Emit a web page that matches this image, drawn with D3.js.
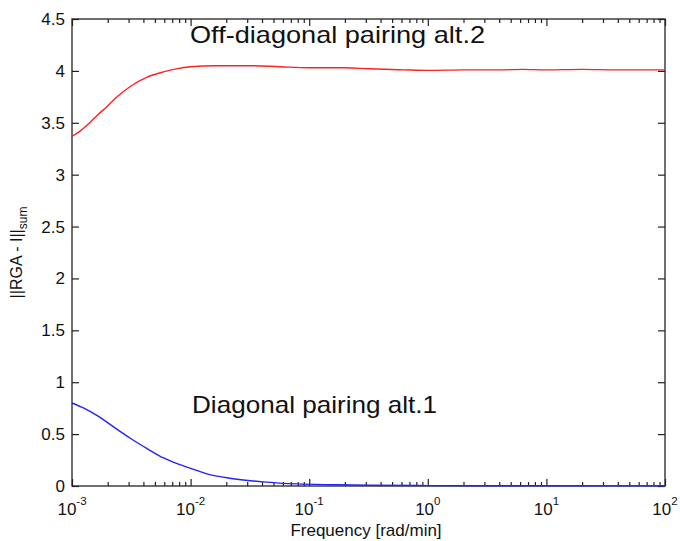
<!DOCTYPE html>
<html>
<head>
<meta charset="utf-8">
<script src="https://cdn.jsdelivr.net/npm/d3@7"></script>
<style>
  html, body { margin: 0; padding: 0; background: #fff; }
  svg { display: block; font-family: "Liberation Sans", Arial, sans-serif; }
</style>
</head>
<body>
<svg id="chart" width="680" height="541"></svg>
<script>
// ---- data ----
const offDiagFreq = [0.001, 0.00117, 0.00141, 0.00166, 0.00195, 0.0024, 0.0031, 0.0043, 0.0059, 0.0076, 0.01, 0.016, 0.032, 0.056, 0.1, 0.2, 0.32, 0.63, 1, 2, 4, 6.3, 10, 20, 40, 100];
const offDiagVal  = [3.37, 3.42, 3.50, 3.58, 3.65, 3.75, 3.85, 3.94, 3.99, 4.02, 4.04, 4.05, 4.05, 4.04, 4.03, 4.03, 4.02, 4.01, 4.005, 4.01, 4.01, 4.015, 4.01, 4.015, 4.01, 4.01];
const diagFreq = [0.001, 0.00126, 0.00162, 0.00224, 0.0031, 0.0043, 0.0059, 0.0079, 0.01, 0.0145, 0.0214, 0.041, 0.079, 0.16, 0.32, 1, 10, 100];
const diagVal  = [0.80, 0.75, 0.68, 0.57, 0.46, 0.36, 0.27, 0.21, 0.17, 0.11, 0.075, 0.04, 0.02, 0.012, 0.007, 0.004, 0.002, 0.001];
const xTickExp = [-3, -2, -1, 0, 1, 2];
const yTicks = [0, 0.5, 1, 1.5, 2, 2.5, 3, 3.5, 4, 4.5];
const yTickLabels = ["0", "0.5", "1", "1.5", "2", "2.5", "3", "3.5", "4", "4.5"];
const offDiagLabel = "Off-diagonal pairing alt.2";
const diagLabel = "Diagonal pairing alt.1";
const xLabel = "Frequency [rad/min]";
const yLabelMain = "||RGA - I||";
const yLabelSub = "sum";

// ---- layout ----
const svg = d3.select("#chart");
const L = 72, R = 665, T = 19, B = 486;
const x = d3.scaleLog().domain([1e-3, 1e2]).range([L, R]);
const y = d3.scaleLinear().domain([0, 4.5]).range([B, T]);
const axisColor = "#222";

const majorX = xTickExp.map(e => Math.pow(10, e));
const minorX = [];
for (let e = -3; e < 2; e++) for (let m = 2; m <= 9; m++) minorX.push(m * Math.pow(10, e));

function styleAxis(g) {
  g.select(".domain").remove();
  g.selectAll("line").attr("stroke", axisColor).attr("stroke-width", 1.2);
  g.selectAll("text").remove();
}

// minor ticks bottom/top
svg.append("g").attr("transform", `translate(0,${B})`)
  .call(d3.axisBottom(x).tickValues(minorX).tickSize(-4).tickFormat(""))
  .call(styleAxis);
svg.append("g").attr("transform", `translate(0,${T})`)
  .call(d3.axisTop(x).tickValues(minorX).tickSize(-4).tickFormat(""))
  .call(styleAxis);
// major ticks bottom/top
svg.append("g").attr("transform", `translate(0,${B})`)
  .call(d3.axisBottom(x).tickValues(majorX).tickSize(-7).tickFormat(""))
  .call(styleAxis);
svg.append("g").attr("transform", `translate(0,${T})`)
  .call(d3.axisTop(x).tickValues(majorX).tickSize(-7).tickFormat(""))
  .call(styleAxis);
// y ticks left/right
svg.append("g").attr("transform", `translate(${L},0)`)
  .call(d3.axisLeft(y).tickValues(yTicks).tickSize(-7).tickFormat(""))
  .call(styleAxis);
svg.append("g").attr("transform", `translate(${R},0)`)
  .call(d3.axisRight(y).tickValues(yTicks).tickSize(-7).tickFormat(""))
  .call(styleAxis);

// frame
svg.append("rect").attr("x", L).attr("y", T).attr("width", R - L).attr("height", B - T)
  .attr("fill", "none").attr("stroke", axisColor).attr("stroke-width", 1.3);

// y tick labels
svg.append("g").selectAll("text").data(yTicks).join("text")
  .attr("x", L - 7).attr("y", d => y(d) + 6)
  .attr("text-anchor", "end").attr("font-size", 17).attr("fill", "#111")
  .text((d, i) => yTickLabels[i]);

// x tick labels 10^e
const xl = svg.append("g").selectAll("text").data(xTickExp).join("text")
  .attr("x", d => x(Math.pow(10, d))).attr("y", 515)
  .attr("text-anchor", "middle").attr("font-size", 17).attr("fill", "#111");
xl.append("tspan").text("10");
xl.append("tspan").attr("dy", -10).attr("font-size", 11.5).text(d => String(d));

// x label
svg.append("text").attr("x", 366).attr("y", 536)
  .attr("text-anchor", "middle").attr("font-size", 17).attr("fill", "#111").text(xLabel);

// y label
const yl = svg.append("text")
  .attr("transform", `translate(22,${(T + B) / 2}) rotate(-90)`)
  .attr("text-anchor", "middle").attr("font-size", 16).attr("fill", "#111");
yl.append("tspan").text(yLabelMain);
yl.append("tspan").attr("dy", 5).attr("font-size", 12).text(yLabelSub);

// lines
const line = d3.line().x(d => x(d[0])).y(d => y(d[1])).curve(d3.curveMonotoneX);
svg.append("path").datum(offDiagFreq.map((f, i) => [f, offDiagVal[i]]))
  .attr("d", line).attr("fill", "none").attr("stroke", "#ff2020").attr("stroke-width", 1.4);
svg.append("path").datum(diagFreq.map((f, i) => [f, diagVal[i]]))
  .attr("d", line).attr("fill", "none").attr("stroke", "#2222ff").attr("stroke-width", 1.4);

// annotations
svg.append("text").attr("x", 190).attr("y", 43).attr("font-size", 24).attr("fill", "#111")
  .attr("textLength", 295).attr("lengthAdjust", "spacingAndGlyphs").text(offDiagLabel);
svg.append("text").attr("x", 192).attr("y", 413).attr("font-size", 24).attr("fill", "#111")
  .attr("textLength", 245).attr("lengthAdjust", "spacingAndGlyphs").text(diagLabel);
</script>
</body>
</html>
